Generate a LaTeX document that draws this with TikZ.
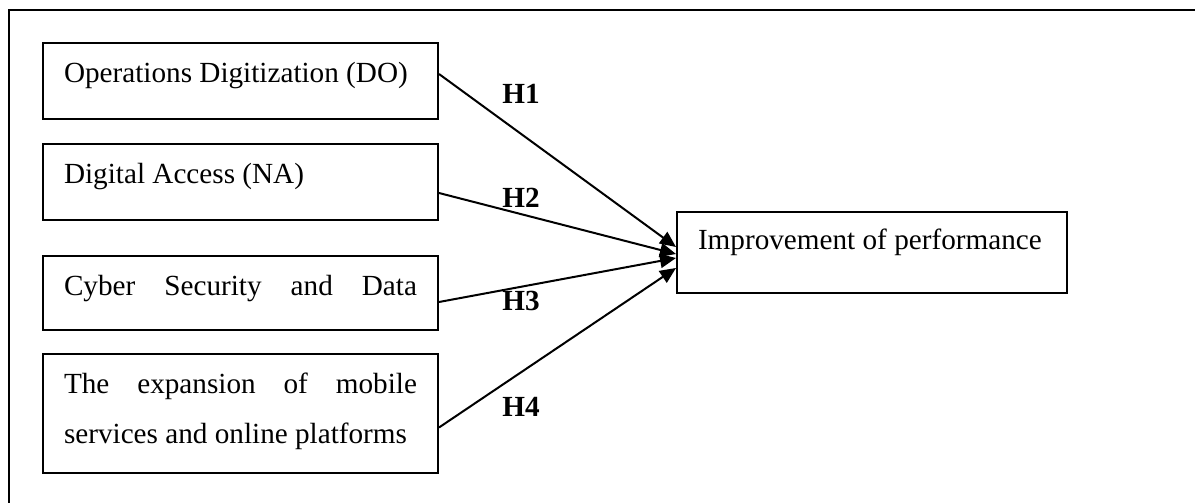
\documentclass[tikz,border=0pt]{standalone}
\usepackage{fontspec}
\setmainfont{Liberation Serif}
\usetikzlibrary{positioning,arrows.meta,calc}
\tikzset{hyp/.style={line width=1pt, -{Triangle[length=8pt,width=7pt]}}}
\tikzset{construct/.style={draw, rectangle, line width=1pt, align=flush left, text width=176.5pt,
    inner xsep=10.5pt, inner ysep=0pt, text height=19.5pt}}
\tikzset{hlabel/.style={anchor=base west, inner sep=0pt, font=\fontsize{14.6pt}{25pt}\selectfont\bfseries}}

\begin{document}
\begin{tikzpicture}[x=0.5pt, y=-0.5pt, every node/.style={font=\fontsize{14.6pt}{25pt}\selectfont}]
            \useasboundingbox (0,0) rectangle (1195,503);
            \draw[line width=1.2pt] (9,503) -- (9,10) -- (1195,10);

            \node[construct, text depth=18.5pt, anchor=north west] (do) at (42,42) {Operations Digitization (DO)};
            \node[construct, text depth=18.5pt, below=11.5pt of do] (na) {Digital Access (NA)};
            \node[construct, text depth=17.5pt, below=17pt of na] (cs) {\makebox[\linewidth][s]{Cyber Security and Data}};
            \node[construct, text depth=40pt, below=11pt of cs] (ms) {\makebox[\linewidth][s]{The expansion of mobile}\\services and online platforms};
            \node[construct, text width=174pt, text height=18.5pt, text depth=22pt, anchor=north west] (ip) at (676,211) {Improvement of performance};

            \node[hlabel] (h1) at (502,103) {H1};
            \node[hlabel] (h2) at (502,207) {H2};
            \node[hlabel] (h3) at (502,310) {H3};
            \node[hlabel] (h4) at (502,416) {H4};

            \draw[hyp] ($(do.east)+(0,-7)$) -- ($(ip.west)+(0,-5.5)$);
            \draw[hyp] ($(na.east)+(0,11)$) -- ($(ip.west)+(0,1.5)$);
            \draw[hyp] ($(cs.east)+(0,9)$) -- ($(ip.west)+(0,5.5)$);
            %\draw[hyp] (ms) to (ip);
            \draw[hyp] ($(ms.east)+(0,14)$) -- ($(ip.west)+(0,15.5)$);
        \end{tikzpicture}
\end{document}
